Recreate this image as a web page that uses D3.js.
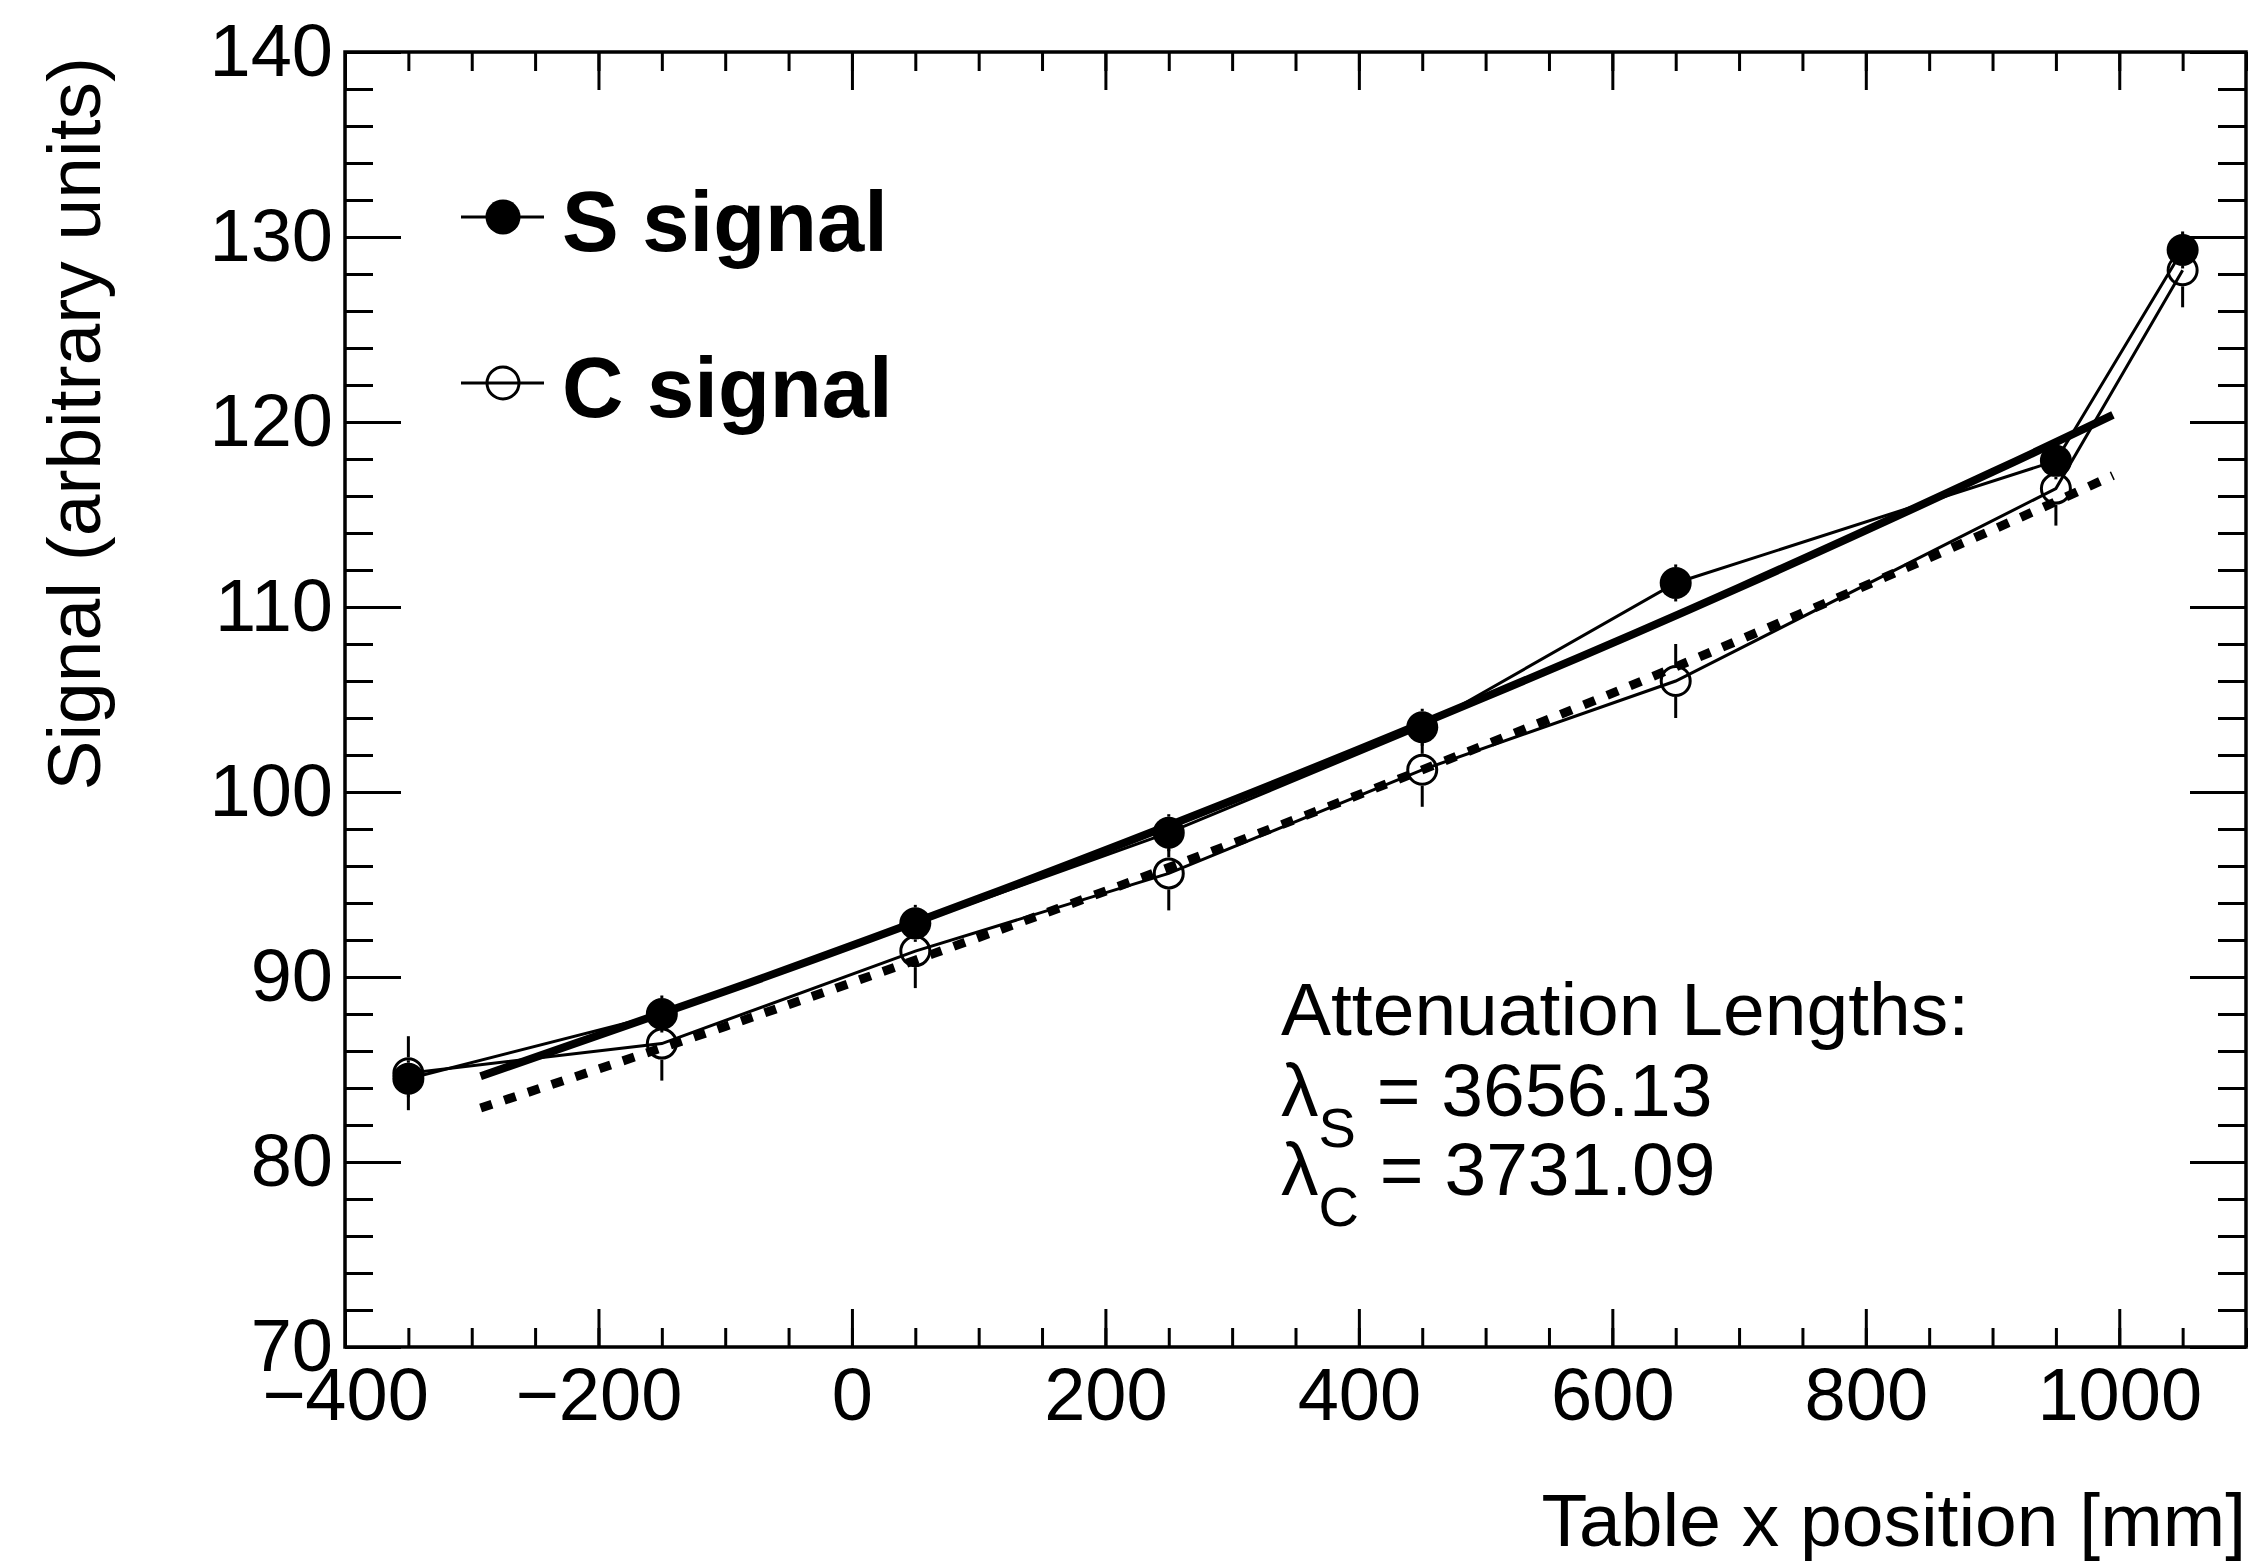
<!DOCTYPE html>
<html>
<head>
<meta charset="utf-8">
<script src="https://cdn.jsdelivr.net/npm/d3@7"></script>
<style>
  body { margin: 0; background: #fff; }
  text { font-family: "Liberation Sans", Arial, Helvetica, sans-serif; fill: #000; }
</style>
</head>
<body>
<div id="chart"></div>
<script>
// table positions and measured signals
let xPos = [-350, -150, 50, 250, 450, 650, 950, 1050]
let sSignal = [84.5, 88.0, 92.9, 97.8, 103.5, 111.3, 117.9, 129.3]
let sErr = [1.0, 1.0, 1.0, 1.0, 1.0, 1.0, 1.0, 1.0]
let cSignal = [84.8, 86.4, 91.4, 95.6, 101.2, 106.0, 116.4, 128.2]
let cErr = [2.0, 2.0, 2.0, 2.0, 2.0, 2.0, 2.0, 2.0]

// fit curves
let fitX = [-293, -100, 100, 300, 500, 700, 900, 995]
let fitS = [84.64, 89.23, 94.24, 99.54, 105.14, 111.05, 117.30, 120.38]
let fitC = [82.92, 87.33, 92.14, 97.21, 102.56, 108.21, 114.17, 117.11]

let xMajor = [-400, -200, 0, 200, 400, 600, 800, 1000]
let yMajor = [70, 80, 90, 100, 110, 120, 130, 140]

let legendLabels = ["S signal", "C signal"]
let lambdaS = "3656.13"
let lambdaC = "3731.09"

const W = 2249, H = 1566
const pLeft = 345, pRight = 2246, pTop = 52, pBottom = 1347

let svg = d3.select("#chart").append("svg")
  .attr("width", W)
  .attr("height", H)

let x = d3.scaleLinear().domain([-400, 1100]).range([pLeft, pRight])
let y = d3.scaleLinear().domain([70, 140]).range([pBottom, pTop])

// axes: major + minor ticks on all four sides
function styleAxis(g) {
  g.select(".domain").remove()
  g.selectAll(".tick line").attr("stroke", "#000").attr("stroke-width", 3)
  g.selectAll(".tick text").style("font-size", "74px").attr("fill", "#000")
}

let xMinor = d3.range(-400, 1101, 50)
let yMinor = d3.range(70, 140.1, 2)

svg.append("g").attr("transform", `translate(0,${pBottom})`)
  .call(d3.axisBottom(x).tickValues(xMinor).tickSize(-19).tickFormat(""))
  .call(styleAxis)
svg.append("g").attr("transform", `translate(0,${pBottom})`)
  .call(d3.axisBottom(x).tickValues(xMajor).tickSize(-38).tickPadding(20).tickFormat(d3.format("d")))
  .call(styleAxis)
svg.append("g").attr("transform", `translate(0,${pTop})`)
  .call(d3.axisTop(x).tickValues(xMinor).tickSize(-19).tickFormat(""))
  .call(styleAxis)
svg.append("g").attr("transform", `translate(0,${pTop})`)
  .call(d3.axisTop(x).tickValues(xMajor).tickSize(-38).tickFormat(""))
  .call(styleAxis)

svg.append("g").attr("transform", `translate(${pLeft},0)`)
  .call(d3.axisLeft(y).tickValues(yMinor).tickSize(-28).tickFormat(""))
  .call(styleAxis)
svg.append("g").attr("transform", `translate(${pLeft},0)`)
  .call(d3.axisLeft(y).tickValues(yMajor).tickSize(-56).tickPadding(12))
  .call(styleAxis)
svg.append("g").attr("transform", `translate(${pRight},0)`)
  .call(d3.axisRight(y).tickValues(yMinor).tickSize(-28).tickFormat(""))
  .call(styleAxis)
svg.append("g").attr("transform", `translate(${pRight},0)`)
  .call(d3.axisRight(y).tickValues(yMajor).tickSize(-56).tickFormat(""))
  .call(styleAxis)

// frame
svg.append("rect")
  .attr("x", pLeft).attr("y", pTop)
  .attr("width", pRight - pLeft).attr("height", pBottom - pTop)
  .attr("fill", "none").attr("stroke", "#000").attr("stroke-width", 3.5)

// axis titles
svg.append("text")
  .attr("x", pRight).attr("y", 1546)
  .attr("text-anchor", "end")
  .style("font-size", "75px")
  .text("Table x position [mm]")

svg.append("text")
  .attr("transform", "translate(100,57) rotate(-90)")
  .attr("text-anchor", "end")
  .style("font-size", "75px")
  .text("Signal (arbitrary units)")

// graphs
const R = 16
function drawGraph(vals, errs, filled) {
  let pts = xPos.map((d, i) => ({ x: d, y: vals[i], e: errs[i] }))
  let g = svg.append("g")
  g.append("path")
    .datum(pts)
    .attr("d", d3.line().x(d => x(d.x)).y(d => y(d.y)))
    .attr("fill", "none").attr("stroke", "#000").attr("stroke-width", 3)
  // error bars, drawn outside the marker like ROOT does
  pts.forEach(d => {
    let ep = y(d.y - d.e) - y(d.y)
    if (ep > R) {
      g.append("line")
        .attr("x1", x(d.x)).attr("x2", x(d.x))
        .attr("y1", y(d.y) - ep).attr("y2", y(d.y) - R)
        .attr("stroke", "#000").attr("stroke-width", 3)
      g.append("line")
        .attr("x1", x(d.x)).attr("x2", x(d.x))
        .attr("y1", y(d.y) + R).attr("y2", y(d.y) + ep)
        .attr("stroke", "#000").attr("stroke-width", 3)
    }
  })
  g.selectAll("circle")
    .data(pts)
    .enter()
    .append("circle")
    .attr("cx", d => x(d.x))
    .attr("cy", d => y(d.y))
    .attr("r", filled ? R : R - 1.5)
    .attr("fill", filled ? "#000" : "none")
    .attr("stroke", "#000")
    .attr("stroke-width", filled ? 0 : 3)
}

drawGraph(sSignal, sErr, true)
drawGraph(cSignal, cErr, false)

// fit curves
let fitLine = d3.line()
  .x(d => x(d[0]))
  .y(d => y(d[1]))
  .curve(d3.curveNatural)

svg.append("path")
  .datum(fitX.map((d, i) => [d, fitS[i]]))
  .attr("d", fitLine)
  .attr("fill", "none").attr("stroke", "#000").attr("stroke-width", 8)

svg.append("path")
  .datum(fitX.map((d, i) => [d, fitC[i]]))
  .attr("d", fitLine)
  .attr("fill", "none").attr("stroke", "#000").attr("stroke-width", 9)
  .attr("stroke-dasharray", "12 13")

// legend
let legY = [217, 383]
legendLabels.forEach((lab, i) => {
  svg.append("line")
    .attr("x1", 461).attr("x2", 544)
    .attr("y1", legY[i]).attr("y2", legY[i])
    .attr("stroke", "#000").attr("stroke-width", 3)
  svg.append("circle")
    .attr("cx", 503).attr("cy", legY[i])
    .attr("r", i == 0 ? 17.5 : 16)
    .attr("fill", i == 0 ? "#000" : "#fff")
    .attr("stroke", "#000")
    .attr("stroke-width", i == 0 ? 0 : 3)
  svg.append("line")
    .attr("x1", 487).attr("x2", 519)
    .attr("y1", legY[i]).attr("y2", legY[i])
    .attr("stroke", "#000").attr("stroke-width", i == 0 ? 0 : 3)
  svg.append("text")
    .attr("x", 562).attr("y", legY[i] + 34)
    .style("font-size", "85px").style("font-weight", "bold")
    .text(lab)
})

// attenuation text
svg.append("text")
  .attr("x", 1281).attr("y", 1035)
  .style("font-size", "75px")
  .text("Attenuation Lengths:")

function lambdaLine(sub, val, yb) {
  let t = svg.append("text")
    .attr("x", 1281).attr("y", yb)
    .style("font-size", "75px")
  t.append("tspan").text("\u03bb")
  t.append("tspan").attr("dy", 31).style("font-size", "56px").text(sub)
  t.append("tspan").attr("dy", -31).text(" = " + val)
}
lambdaLine("S", lambdaS, 1116)
lambdaLine("C", lambdaC, 1195)
</script>
</body>
</html>
